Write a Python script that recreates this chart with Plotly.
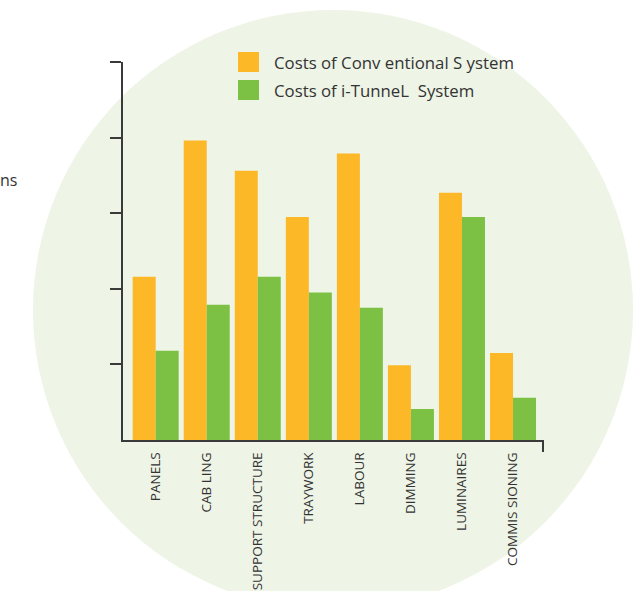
import plotly.graph_objects as go

categories = ["PANELS", "CAB LING", "SUPPORT STRUCTURE", "TRAYWORK", "LABOUR",
              "DIMMING", "LUMINAIRES", "COMMIS SIONING"]
conventional = [2.16, 3.96, 3.56, 2.95, 3.79, 0.99, 3.27, 1.15]
itunnel = [1.18, 1.79, 2.16, 1.95, 1.75, 0.41, 2.95, 0.56]
series_names = ["Costs of Conv entional S ystem", "Costs of i-TunneL  System"]
series_colors = ["#FDB827", "#7CC144"]
y_ticks = [1, 2, 3, 4, 5]

W, H = 637, 591
ML, MR, MT, MB = 123, 94, 62, 151
PW, PH = W - ML - MR, H - MT - MB

def px_to_paper_x(x):
    return (x - ML) / PW

def px_to_paper_y(y):
    return (H - MB - y) / PH

fig = go.Figure()
for name, vals, col in zip(series_names, [conventional, itunnel], series_colors):
    fig.add_trace(go.Bar(x=categories, y=vals, name=name, marker_color=col,
                         marker_line_width=0, showlegend=False))

axis_col = "#3a3a3a"
shapes = []
# background circle
cx, cy, r = 333, 310, 300
shapes.append(dict(type="circle", xref="paper", yref="paper", layer="below",
                   x0=px_to_paper_x(cx - r), x1=px_to_paper_x(cx + r),
                   y0=px_to_paper_y(cy + r), y1=px_to_paper_y(cy - r),
                   fillcolor="#EEF4E6", line_width=0))
# right-end tick of x axis
shapes.append(dict(type="line", xref="paper", yref="paper",
                   x0=1, x1=1, y0=0, y1=-12 / PH,
                   line=dict(color=axis_col, width=2)))

annotations = []
# legend swatches and text
leg_y = [62, 90]
for name, col, yy in zip(series_names, series_colors, leg_y):
    shapes.append(dict(type="rect", xref="paper", yref="paper",
                       x0=px_to_paper_x(238), x1=px_to_paper_x(259),
                       y0=px_to_paper_y(yy + 10), y1=px_to_paper_y(yy - 10),
                       fillcolor=col, line_width=0))
    annotations.append(dict(text=name, xref="paper", yref="paper",
                            x=px_to_paper_x(272), y=px_to_paper_y(yy),
                            xanchor="left", yanchor="middle", showarrow=False,
                            font=dict(family="Open Sans", size=16.8, color="#333333")))

annotations.append(dict(text="ns", xref="paper", yref="paper",
                        x=px_to_paper_x(-2), y=px_to_paper_y(180),
                        xanchor="left", yanchor="middle", showarrow=False,
                        font=dict(family="Open Sans", size=16, color="#333333")))

fig.update_layout(
    width=W, height=H,
    margin=dict(l=ML, r=MR, t=MT, b=MB, pad=0, autoexpand=False),
    paper_bgcolor="white", plot_bgcolor="rgba(0,0,0,0)",
    barmode="group", bargap=0.099, bargroupgap=0,
    shapes=shapes, annotations=annotations,
    showlegend=False,
    font=dict(family="Open Sans", color="#333333"),
)
fig.update_xaxes(type="category", range=[-0.64, 7.587], showline=True,
                 linecolor=axis_col, linewidth=2, ticks="", showgrid=False,
                 tickangle=-90, tickfont=dict(family="Open Sans", size=13.5, color="#333333"),
                 ticklabelstandoff=5, zeroline=False, automargin=False)
fig.update_yaxes(range=[0, 5], showline=True, linecolor=axis_col, linewidth=2,
                 ticks="outside", ticklen=11, tickwidth=2, tickcolor=axis_col,
                 tickvals=y_ticks, showticklabels=False, showgrid=False, zeroline=False,
                 automargin=False)

fig.write_html("out.html")
